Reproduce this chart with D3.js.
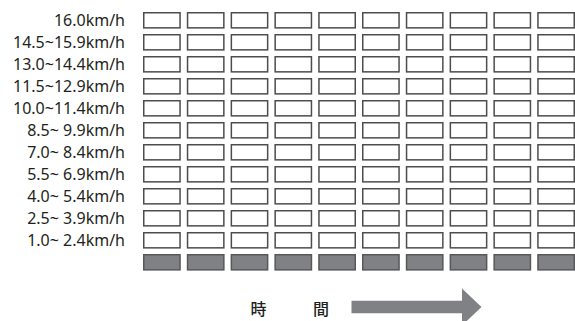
<!DOCTYPE html>
<html>
<head>
<meta charset="utf-8">
<script src="https://cdn.jsdelivr.net/npm/d3@7"></script>
<style>
  html, body { margin: 0; padding: 0; background: #fff; }
  svg { display: block; }
</style>
</head>
<body>
<div id="chart"></div>
<script>
// speed bands, top to bottom; the last (unlabelled) row is the grey base row
var speedLabels = [
  "16.0km/h", "14.5~15.9km/h", "13.0~14.4km/h", "11.5~12.9km/h",
  "10.0~11.4km/h", "8.5~ 9.9km/h", "7.0~ 8.4km/h", "5.5~ 6.9km/h",
  "4.0~ 5.4km/h", "2.5~ 3.9km/h", "1.0~ 2.4km/h", ""
];
var timeSlots = [1, 2, 3, 4, 5, 6, 7, 8, 9, 10];
var axisTitle = ["時", "間"];

var dim = {
  width: 575, height: 321,
  grid: { left: 143, right: 575, top: 12, bottom: 270.6 },
  label: { x: 125 },
  arrow: { x0: 351.5, x1: 462, tip: 481.5, cy: 307, shaft: 6.3, head: 18.5 },
  title: { y: 314.5, x: [258.5, 321] }
};

var x = d3.scaleBand()
    .domain(timeSlots)
    .range([dim.grid.left, dim.grid.right])
    .paddingInner(0.137)
    .paddingOuter(0);

var y = d3.scaleBand()
    .domain(d3.range(speedLabels.length))
    .range([dim.grid.top, dim.grid.bottom])
    .paddingInner(0.245)
    .paddingOuter(0);

var svg = d3.select("#chart").append("svg")
    .attr("width", dim.width)
    .attr("height", dim.height);

// cells: every speed row x every time slot
var cells = [];
speedLabels.forEach(function(s, i) {
  timeSlots.forEach(function(t) { cells.push({ row: i, t: t, base: s === "" }); });
});

svg.append("g").attr("class", "cells")
  .selectAll("rect").data(cells).enter()
  .append("rect")
    .attr("x", function(d) { return x(d.t) + 0.75; })
    .attr("y", function(d) { return y(d.row) + 0.75; })
    .attr("width", x.bandwidth() - 1.5)
    .attr("height", y.bandwidth() - 1.5)
    .attr("fill", function(d) { return d.base ? "#808184" : "#fff"; })
    .attr("stroke", function(d) { return d.base ? "#58585a" : "#4d4d4f"; })
    .attr("stroke-width", 1.5);

svg.append("g").attr("class", "labels")
  .selectAll("text").data(speedLabels).enter()
  .append("text")
    .attr("x", dim.label.x)
    .attr("y", function(d, i) { return y(i) + y.bandwidth() / 2; })
    .attr("dy", "0.37em")
    .attr("text-anchor", "end")
    .attr("font-family", "'Noto Sans', sans-serif")
    .attr("font-size", 16)
    .attr("fill", "#231f20")
    .style("white-space", "pre")
    .text(function(d) { return d; });

// time axis title and arrow
svg.append("g").attr("class", "title")
  .selectAll("text").data(axisTitle).enter()
  .append("text")
    .attr("x", function(d, i) { return dim.title.x[i]; })
    .attr("y", dim.title.y)
    .attr("text-anchor", "middle")
    .attr("font-family", "'Noto Sans CJK JP', sans-serif")
    .attr("font-weight", 500)
    .attr("font-size", 16)
    .attr("fill", "#231f20")
    .text(function(d) { return d; });

var a = dim.arrow;
svg.append("path")
    .attr("class", "arrow")
    .attr("d", d3.line()([
      [a.x0, a.cy - a.shaft], [a.x1, a.cy - a.shaft], [a.x1, a.cy - a.head],
      [a.tip, a.cy], [a.x1, a.cy + a.head], [a.x1, a.cy + a.shaft],
      [a.x0, a.cy + a.shaft]
    ]) + "Z")
    .attr("fill", "#808184");
</script>
</body>
</html>
